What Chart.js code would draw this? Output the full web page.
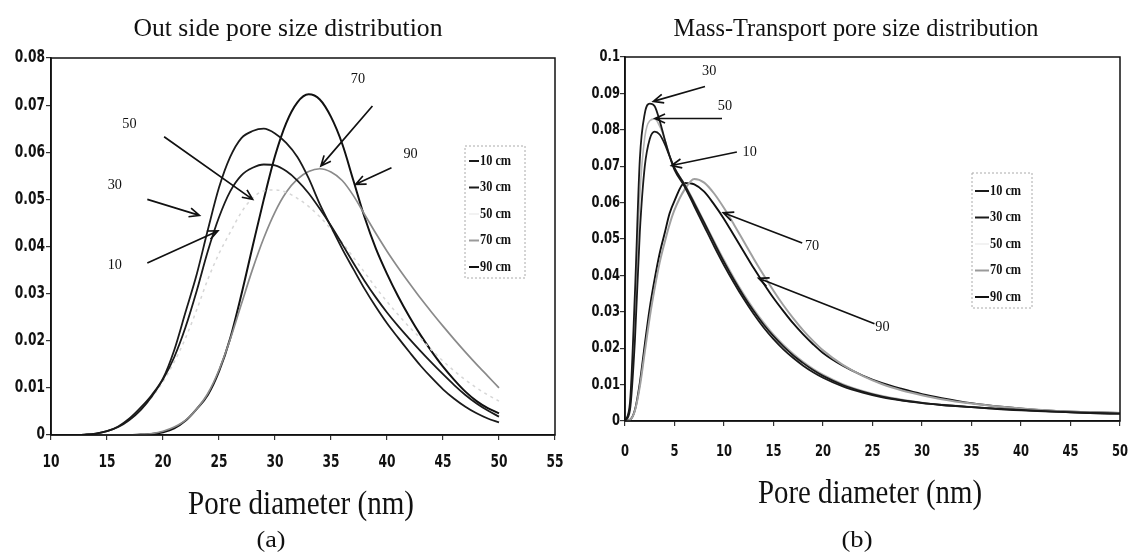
<!DOCTYPE html>
<html>
<head>
<meta charset="utf-8">
<script src="https://cdn.jsdelivr.net/npm/chart.js@4.4.1/dist/chart.umd.min.js"></script>
<style>
  html, body { margin: 0; padding: 0; background: #fff; }
  #wrap { position: relative; width: 1129px; height: 554px; overflow: hidden; background: #fff; }
  #chartA { position: absolute; left: 0; top: 0; }
  #chartB { position: absolute; left: 565px; top: 0; }
</style>
</head>
<body>
<div id="wrap">
  <canvas id="chartA" width="565" height="554"></canvas>
  <canvas id="chartB" width="564" height="554"></canvas>
</div>
<script>
// ---- panel (a): outside pore size distribution ----
const xsA = [10, 11, 12, 13, 14, 15, 16, 17, 18, 19, 20, 21, 22, 23, 24, 25, 26, 27, 28, 29, 30,
             31, 32, 33, 34, 35, 36, 37, 38, 39, 40, 41, 42, 43, 44, 45, 46, 47, 48, 49, 50];
const a10 = [0, 0, 0, 0.0001, 0.0003, 0.0008, 0.0017, 0.0032, 0.0053, 0.0082, 0.0118, 0.0165, 0.0228, 0.0305, 0.039, 0.0462, 0.0517, 0.0551, 0.0567, 0.0574, 0.0572,
             0.056, 0.054, 0.0513, 0.048, 0.0444, 0.0405, 0.0365, 0.0327, 0.0292, 0.026, 0.0231, 0.0204, 0.0178, 0.0153, 0.0129, 0.0106, 0.0085, 0.0067, 0.0052, 0.0039];
const a30 = [0, 0, 0, 0.0001, 0.0003, 0.0008, 0.0018, 0.0035, 0.0058, 0.0085, 0.012, 0.018, 0.026, 0.034, 0.0435, 0.0525, 0.059, 0.063, 0.0645, 0.065, 0.064,
             0.062, 0.059, 0.0545, 0.049, 0.0442, 0.0395, 0.0352, 0.031, 0.0272, 0.0237, 0.0206, 0.0176, 0.0147, 0.0121, 0.0097, 0.0077, 0.006, 0.0046, 0.0035, 0.0027];
const a50 = [0, 0, 0, 0.0001, 0.0003, 0.0008, 0.0017, 0.0032, 0.0053, 0.008, 0.0113, 0.0155, 0.0205, 0.0265, 0.033, 0.0385, 0.043, 0.0473, 0.0503, 0.0518, 0.052,
             0.0515, 0.0502, 0.0485, 0.0463, 0.0437, 0.0408, 0.0377, 0.0345, 0.0313, 0.0283, 0.0255, 0.0229, 0.0205, 0.018, 0.0157, 0.0136, 0.0117, 0.010, 0.0085, 0.0072];
const a70 = [0, 0, 0, 0, 0, 0, 0, 0, 0.0001, 0.0003, 0.0008, 0.0017, 0.0031, 0.0055, 0.0088, 0.0138, 0.0203, 0.0278, 0.0352, 0.0418, 0.0473,
             0.0515, 0.0543, 0.0559, 0.0565, 0.0558, 0.054, 0.0508, 0.0468, 0.0428, 0.039, 0.0355, 0.0322, 0.029, 0.026, 0.0231, 0.0203, 0.0176, 0.015, 0.0125, 0.0100];
const a90 = [0, 0, 0, 0, 0, 0, 0, 0, 0.0001, 0.0002, 0.0006, 0.0014, 0.003, 0.0055, 0.0085, 0.0135, 0.0205, 0.0298, 0.040, 0.050, 0.0592,
             0.0662, 0.0706, 0.0723, 0.0712, 0.0675, 0.0618, 0.054, 0.0462, 0.0396, 0.0342, 0.0294, 0.0251, 0.0212, 0.0177, 0.0145, 0.0117, 0.0092, 0.0072, 0.0057, 0.0046];
const xTicksA = [10, 15, 20, 25, 30, 35, 40, 45, 50, 55];
const xLabelsA = ['10', '15', '20', '25', '30', '35', '40', '45', '50', '55'];
const yTicksA = [0, 0.01, 0.02, 0.03, 0.04, 0.05, 0.06, 0.07, 0.08];
const yLabelsA = ['0', '0.01', '0.02', '0.03', '0.04', '0.05', '0.06', '0.07', '0.08'];
// arrow notes: label spot, arrow start, arrow tip (data units)
const notesA = [
  { text: '50', at: [17.0, 0.066], from: [20.1, 0.0633], to: [28.0, 0.0500] },
  { text: '30', at: [15.7, 0.053], from: [18.6, 0.0500], to: [23.25, 0.0466] },
  { text: '10', at: [15.7, 0.036], from: [18.6, 0.0365], to: [24.9, 0.0433] },
  { text: '70', at: [37.4, 0.0755], from: [38.7, 0.0698], to: [34.1, 0.0571] },
  { text: '90', at: [42.1, 0.0596], from: [40.4, 0.0567], to: [37.2, 0.0532] }
];

// ---- panel (b): mass-transport pore size distribution ----
const xsB = [0, 0.5, 1, 1.5, 2, 2.5, 3, 3.5, 4, 4.5, 5, 6, 7, 8, 9, 10, 11, 12, 13, 14, 15, 16, 17, 18, 19, 20,
             22, 24, 26, 28, 30, 32, 35, 38, 41, 44, 47, 50];
const b10 = [0, 0.003, 0.022, 0.052, 0.07, 0.0775, 0.0795, 0.0787, 0.0762, 0.0728, 0.0695,
             0.065, 0.0598, 0.0545, 0.049, 0.0437, 0.0388, 0.0343, 0.0302, 0.0265, 0.0233, 0.0205, 0.018, 0.0159, 0.014, 0.0124,
             0.0099, 0.0081, 0.0067, 0.0057, 0.005, 0.0044, 0.0038, 0.0033, 0.0029, 0.0025, 0.0022, 0.002];
const b30 = [0, 0.005, 0.035, 0.072, 0.0845, 0.0872, 0.0865, 0.0825, 0.0775, 0.0728, 0.069,
             0.0645, 0.059, 0.0535, 0.048, 0.0428, 0.038, 0.0335, 0.0294, 0.0257, 0.0225, 0.0197, 0.0173, 0.0152, 0.0134, 0.0119,
             0.0095, 0.0078, 0.0065, 0.0056, 0.0049, 0.0044, 0.0038, 0.0032, 0.0028, 0.0025, 0.0022, 0.002];
const b50 = [0, 0.004, 0.028, 0.062, 0.078, 0.0825, 0.083, 0.081, 0.0775, 0.073, 0.0695,
             0.0652, 0.0602, 0.0548, 0.0495, 0.0443, 0.0394, 0.0349, 0.0308, 0.0271, 0.0238, 0.021, 0.0185, 0.0163, 0.0144, 0.0128,
             0.0102, 0.0083, 0.0069, 0.0059, 0.0051, 0.0045, 0.0039, 0.0033, 0.0029, 0.0025, 0.0022, 0.002];
const b70 = [0, 0.0003, 0.0028, 0.0095, 0.019, 0.0285, 0.0365, 0.0435, 0.049, 0.054, 0.058,
             0.0635, 0.0665, 0.0655, 0.0625, 0.0585, 0.054, 0.0493, 0.0446, 0.0401, 0.0358, 0.0318, 0.0282, 0.0249, 0.022, 0.0194,
             0.0154, 0.0124, 0.0101, 0.0084, 0.0071, 0.006, 0.0048, 0.0039, 0.0032, 0.0027, 0.0024, 0.0022];
const b90 = [0, 0.0003, 0.003, 0.0105, 0.021, 0.031, 0.039, 0.046, 0.0515, 0.057, 0.0605,
             0.0654, 0.065, 0.063, 0.0595, 0.0555, 0.051, 0.0465, 0.042, 0.0378, 0.0338, 0.0302, 0.0268, 0.0238, 0.0211, 0.0187,
             0.0152, 0.0125, 0.0104, 0.0088, 0.0074, 0.0063, 0.0049, 0.0039, 0.0032, 0.0027, 0.0024, 0.0022];
const xTicksB = [0, 5, 10, 15, 20, 25, 30, 35, 40, 45, 50];
const xLabelsB = ['0', '5', '10', '15', '20', '25', '30', '35', '40', '45', '50'];
const yTicksB = [0, 0.01, 0.02, 0.03, 0.04, 0.05, 0.06, 0.07, 0.08, 0.09, 0.1];
const yLabelsB = ['0', '0.01', '0.02', '0.03', '0.04', '0.05', '0.06', '0.07', '0.08', '0.09', '0.1'];
const notesB = [
  { text: '30', at: [8.5, 0.0961], from: [8.08, 0.0919], to: [2.86, 0.0878] },
  { text: '50', at: [10.1, 0.0864], from: [9.8, 0.0831], to: [3.03, 0.0831] },
  { text: '10', at: [12.6, 0.0739], from: [11.3, 0.0739], to: [4.7, 0.0702] },
  { text: '70', at: [18.9, 0.0480], from: [17.9, 0.0489], to: [9.93, 0.0572] },
  { text: '90', at: [26.0, 0.0258], from: [25.2, 0.0267], to: [13.5, 0.0392] }
];

const seriesNames = ['10 cm', '30 cm', '50 cm', '70 cm', '90 cm'];

// text squeezed horizontally (the scan uses a narrow face)
function squeezeText(ctx, text, x, y, font, sx, align) {
  ctx.save();
  ctx.font = font;
  ctx.fillStyle = '#111';
  ctx.textBaseline = 'middle';
  ctx.textAlign = align || 'center';
  ctx.translate(x, y);
  ctx.scale(sx, 1);
  ctx.fillText(text, 0, 0);
  ctx.restore();
}

// text fitted to a given width
function fitText(ctx, text, x, y, font, width) {
  ctx.save();
  ctx.font = font;
  const w = ctx.measureText(text).width;
  ctx.restore();
  squeezeText(ctx, text, x, y, font, width / w, 'center');
}

function drawArrow(ctx, x1, y1, x2, y2) {
  const ang = Math.atan2(y2 - y1, x2 - x1);
  const len = 11, spread = 0.42;
  ctx.beginPath();
  ctx.moveTo(x1, y1);
  ctx.lineTo(x2, y2);
  ctx.moveTo(x2 - len * Math.cos(ang - spread), y2 - len * Math.sin(ang - spread));
  ctx.lineTo(x2, y2);
  ctx.lineTo(x2 - len * Math.cos(ang + spread), y2 - len * Math.sin(ang + spread));
  ctx.stroke();
}

const decorPlugin = {
  id: 'decor',
  afterDatasetsDraw(chart, args, o) {
    const ctx = chart.ctx;
    const sx = chart.scales.x, sy = chart.scales.y;
    const a = chart.chartArea;
    ctx.save();
    ctx.strokeStyle = '#111';
    ctx.lineWidth = 1.5;
    ctx.strokeRect(a.left, a.top, a.right - a.left, a.bottom - a.top);
    ctx.lineWidth = 1.7;
    o.notes.forEach(n => {
      drawArrow(ctx,
        sx.getPixelForValue(n.from[0]), sy.getPixelForValue(n.from[1]),
        sx.getPixelForValue(n.to[0]), sy.getPixelForValue(n.to[1]));
    });
    ctx.restore();
    o.notes.forEach(n => {
      squeezeText(ctx, n.text, sx.getPixelForValue(n.at[0]), sy.getPixelForValue(n.at[1]),
        '15px "Liberation Serif"', 0.95, 'center');
    });
  },
  afterDraw(chart, args, o) {
    const ctx = chart.ctx;
    const sx = chart.scales.x, sy = chart.scales.y;
    sx.ticks.forEach(t => {
      squeezeText(ctx, t.label, sx.getPixelForValue(t.value), o.xLabelY, o.tickFont, o.tickSqueeze, 'center');
    });
    sy.ticks.forEach(t => {
      squeezeText(ctx, t.label, o.yLabelRight, sy.getPixelForValue(t.value), o.tickFont, o.tickSqueeze, 'right');
    });
    fitText(ctx, o.title.text, o.title.x, o.title.y, '25px "Liberation Serif"', o.title.w);
    fitText(ctx, 'Pore diameter (nm)', o.axisTitle.x, o.axisTitle.y, '33px "Liberation Serif"', o.axisTitle.w);
    fitText(ctx, o.tag.text, o.tag.x, o.tag.y, '24px "Liberation Serif"', o.tag.w);

    // legend box
    const lg = o.legend;
    ctx.save();
    ctx.strokeStyle = '#aaa';
    ctx.lineWidth = 1;
    ctx.setLineDash([2, 2]);
    ctx.strokeRect(lg.box[0], lg.box[1], lg.box[2] - lg.box[0], lg.box[3] - lg.box[1]);
    ctx.setLineDash([]);
    chart.data.datasets.forEach((ds, i) => {
      const y = lg.firstRow + i * lg.gap;
      ctx.strokeStyle = ds.legendColor;
      ctx.lineWidth = 2;
      ctx.beginPath();
      ctx.moveTo(lg.line[0], y);
      ctx.lineTo(lg.line[1], y);
      ctx.stroke();
      squeezeText(ctx, ds.label, lg.textX, y, 'bold 15px "Liberation Serif"', 0.82, 'left');
    });
    ctx.restore();
  }
};

function buildChart(id, xs, values, styles, cfg) {
  const datasets = values.map((vals, i) => ({
    label: seriesNames[i],
    data: xs.map((x, k) => ({ x: x, y: vals[k] })),
    borderColor: styles[i].color,
    legendColor: styles[i].legend,
    borderWidth: styles[i].width,
    borderDash: styles[i].dash || [],
    pointRadius: 0,
    fill: false,
    cubicInterpolationMode: 'monotone'
  }));
  return new Chart(document.getElementById(id), {
    type: 'line',
    data: { datasets: datasets },
    options: {
      responsive: false,
      animation: false,
      devicePixelRatio: 1,
      layout: { padding: cfg.padding },
      plugins: {
        legend: { display: false },
        tooltip: { enabled: false },
        decor: cfg.decor
      },
      scales: {
        x: {
          type: 'linear',
          min: cfg.xTicks[0],
          max: cfg.xTicks[cfg.xTicks.length - 1],
          afterBuildTicks: s => { s.ticks = cfg.xTicks.map(v => ({ value: v })); },
          ticks: { display: false, callback: (v, i) => cfg.xLabels[i] },
          grid: { drawOnChartArea: false, drawTicks: true, tickLength: 5, color: '#333', lineWidth: 1.2 },
          border: { display: true, color: '#111', width: 1.6 },
          afterFit: s => { s.height = cfg.xAxisHeight; }
        },
        y: {
          type: 'linear',
          min: cfg.yTicks[0],
          max: cfg.yTicks[cfg.yTicks.length - 1],
          afterBuildTicks: s => { s.ticks = cfg.yTicks.map(v => ({ value: v })); },
          ticks: { display: false, callback: (v, i) => cfg.yLabels[i] },
          grid: { drawOnChartArea: false, drawTicks: true, tickLength: 5, color: '#333', lineWidth: 1.2 },
          border: { display: true, color: '#111', width: 1.6 },
          afterFit: s => { s.width = cfg.yAxisWidth; }
        }
      }
    },
    plugins: [decorPlugin]
  });
}

buildChart('chartA', xsA, [a10, a30, a50, a70, a90], [
  { color: '#1a1a1a', legend: '#1a1a1a', width: 1.8 },
  { color: '#1a1a1a', legend: '#1a1a1a', width: 1.8 },
  { color: '#d6d6d6', legend: '#f2f2f2', width: 1.5, dash: [3, 4] },
  { color: '#8a8a8a', legend: '#9a9a9a', width: 1.7 },
  { color: '#111111', legend: '#111111', width: 2 }
], {
  padding: { left: 0, top: 58, right: 10, bottom: 0 },
  yAxisWidth: 51,
  xAxisHeight: 119,
  xTicks: xTicksA, xLabels: xLabelsA, yTicks: yTicksA, yLabels: yLabelsA,
  decor: {
    notes: notesA,
    xLabelY: 463, yLabelRight: 45,
    tickFont: 'bold 17px "DejaVu Sans"', tickSqueeze: 0.72,
    title: { text: 'Out side pore size distribution', x: 288, y: 29, w: 309 },
    axisTitle: { x: 301, y: 505, w: 226 },
    tag: { text: '(a)', x: 271, y: 541, w: 29 },
    legend: { box: [465, 146, 525, 278], line: [469, 479], textX: 480, firstRow: 161, gap: 26.5 }
  }
});

buildChart('chartB', xsB, [b10, b30, b50, b70, b90], [
  { color: '#1a1a1a', legend: '#1a1a1a', width: 1.8 },
  { color: '#1a1a1a', legend: '#1a1a1a', width: 1.8 },
  { color: '#b4b4b4', legend: '#f2f2f2', width: 1.6 },
  { color: '#a0a0a0', legend: '#9a9a9a', width: 2 },
  { color: '#111111', legend: '#111111', width: 1.9 }
], {
  padding: { left: 0, top: 57, right: 9, bottom: 0 },
  yAxisWidth: 60,
  xAxisHeight: 133,
  xTicks: xTicksB, xLabels: xLabelsB, yTicks: yTicksB, yLabels: yLabelsB,
  decor: {
    notes: notesB,
    xLabelY: 452, yLabelRight: 55,
    tickFont: 'bold 16px "DejaVu Sans"', tickSqueeze: 0.72,
    title: { text: 'Mass-Transport pore size distribution', x: 291, y: 29, w: 365 },
    axisTitle: { x: 305, y: 494, w: 224 },
    tag: { text: '(b)', x: 292, y: 541, w: 31 },
    legend: { box: [407, 173, 467, 308], line: [410, 424], textX: 425, firstRow: 191, gap: 26.5 }
  }
});
</script>
</body>
</html>
